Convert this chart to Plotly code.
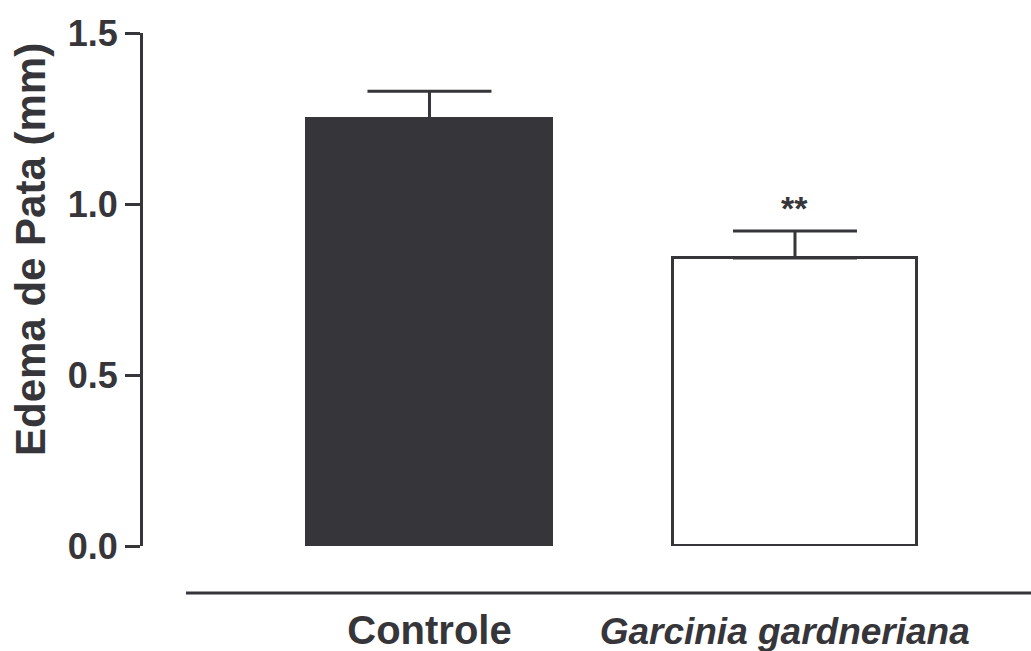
import plotly.graph_objects as go

categories = ["Controle", "Garcinia gardneriana"]
tick_text = ["<b>Controle</b>",
             "<span style='font-size:37px'><b><i>Garcinia gardneriana</i>&nbsp;&nbsp;</b></span>"]
means = [1.25, 0.842]
sem = [0.08, 0.079]
fills = ["#36353a", "#ffffff"]
y_ticks = [0.0, 0.5, 1.0, 1.5]
y_tick_labels = ["0.0", "0.5", "1.0", "1.5"]
y_title = "Edema de Pata (mm)"
significance = ["", "**"]

INK = "#36353a"
FONT = "Liberation Sans, Arial"
x_pos = list(range(len(categories)))

fig = go.Figure()
fig.add_trace(go.Bar(
    x=x_pos, y=means, width=0.67,
    marker=dict(color=fills, line=dict(color=INK, width=3)),
    error_y=dict(type="data", array=sem, arrayminus=[0] * len(sem), symmetric=False,
                 color=INK, thickness=3, width=62),
    showlegend=False,
))

for xi, m, s, sig in zip(x_pos, means, sem, significance):
    if sig:
        fig.add_annotation(x=xi, y=m + s, text="<b>" + sig + "</b>", showarrow=False,
                           yanchor="bottom", yshift=2,
                           font=dict(family=FONT, size=34, color=INK))

# plot area 143..1031 x 33..546
fig.add_shape(type="line", xref="paper", yref="paper", x0=(186 - 143) / 888, x1=1.0,
              y0=-(593 - 546) / 513, y1=-(593 - 546) / 513,
              line=dict(color=INK, width=3))

fig.add_annotation(xref="paper", yref="paper", x=(30 - 143) / 888, y=(546 - 250) / 513,
                   text="<b>" + y_title + "</b>", textangle=-90, showarrow=False,
                   xanchor="center", yanchor="middle", borderpad=0,
                   font=dict(family=FONT, size=42, color=INK))

fig.update_layout(
    width=1031, height=651,
    margin=dict(l=143, r=0, t=33, b=105, autoexpand=False),
    plot_bgcolor="white", paper_bgcolor="white",
    bargap=0,
    font=dict(family=FONT, color=INK),
)
fig.update_xaxes(
    range=[-0.7838, 1.6457], tickvals=x_pos, ticktext=tick_text,
    ticks="outside", ticklen=49, tickcolor="rgba(0,0,0,0)",
    tickfont=dict(size=40, color=INK, family=FONT),
    showline=False, showgrid=False, zeroline=False, automargin=False,
)
fig.update_yaxes(
    range=[0, 1.5], tickvals=y_ticks, ticktext=y_tick_labels,
    ticks="outside", ticklen=15, tickwidth=3, tickcolor=INK,
    tickfont=dict(size=36, color=INK, family=FONT, weight="bold"),
    showline=True, linewidth=3, linecolor=INK,
    showgrid=False, zeroline=False, automargin=False,
)

fig.write_html("out.html", config={"displayModeBar": False},
               post_script="document.body.style.margin='0px';")
